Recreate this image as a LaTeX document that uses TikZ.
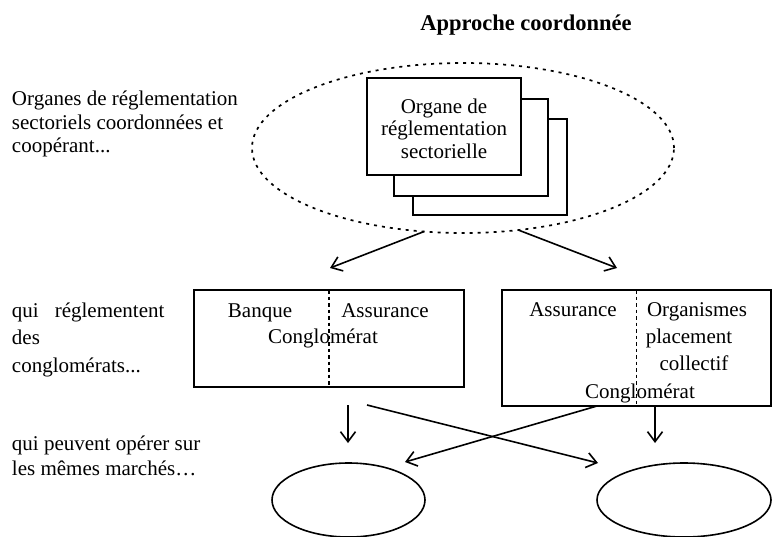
\documentclass[tikz,border=0pt]{standalone}
\usepackage{fontspec}
\setmainfont{Liberation Serif}
\usetikzlibrary{shapes.geometric,arrows.meta}
\begin{document}
\begin{tikzpicture}[x=1pt,y=-1pt,
  every node/.style={inner sep=0pt,outer sep=0pt},
  txt/.style={font=\fontsize{21}{25}\selectfont, anchor=base},
  ltxt/.style={txt, anchor=base west},
  ttl/.style={font=\fontsize{22.5}{27}\selectfont\bfseries, anchor=base},
  box/.style={draw, line width=1.6pt, fill=white, rectangle},
  bubble/.style={draw, line width=1.6pt, ellipse},
  dotbubble/.style={draw, line width=1.7pt, ellipse, dash pattern=on 3pt off 5pt},
  divider/.style={line width=1.7pt, dash pattern=on 3.5pt off 3pt},
  arr/.style={line width=1.6pt, -{Straight Barb[length=10pt,width=15pt]}}
]
\useasboundingbox (0,0) rectangle (773,536);

% title
\node[ttl] (title) at (526,30) {Approche coordonnée};

% left captions
\node[ltxt] (c1) at (12,105) {Organes de réglementation};
\node[ltxt] (c2) at (12,129) {sectoriels coordonnées et};
\node[ltxt] (c3) at (12,152) {coopérant...};
\node[ltxt] (c4) at (12,317) {qui\hspace{16pt}réglementent};
\node[ltxt] (c5) at (12,344) {des};
\node[ltxt] (c6) at (12,372) {conglomérats...};
\node[ltxt] (c7) at (12,450) {qui peuvent opérer sur};
\node[ltxt] (c8) at (12,475) {les mêmes marchés…};

% dotted ellipse with stacked regulators
\node[dotbubble, minimum width=422, minimum height=170] (reg) at (463,148) {};
\node[box, minimum width=154, minimum height=96] (org3) at (490,167) {};
\node[box, minimum width=154, minimum height=97] (org2) at (471,147.5) {};
\node[box, minimum width=154, minimum height=97] (org1) at (444,126.5) {};
\node[txt] (o1) at (444,113) {Organe de};
\node[txt] (o2) at (444,135.5) {réglementation};
\node[txt] (o3) at (444,158) {sectorielle};

% conglomerate boxes
\node[box, minimum width=270, minimum height=97] (conga) at (329,338.5) {};
\draw[divider] (conga.north) -- (conga.south);
\node[txt] (ba) at (260,317) {Banque};
\node[txt] (aa) at (385,317) {Assurance};
\node[txt] (ca) at (323,343) {Conglomérat};

\node[box, minimum width=269, minimum height=116] (congb) at (636.5,348) {};
\draw[divider] (congb.north) -- (congb.south);
\node[txt] (ab) at (573,316) {Assurance};
\node[txt] (ob1) at (697,316) {Organismes};
\node[txt] (ob2) at (689,343) {placement};
\node[txt] (ob3) at (694,370) {collectif};
\node[txt] (cb) at (640,398) {Conglomérat};

% markets
\node[bubble, minimum width=153, minimum height=74] (mka) at (348.5,500) {};
\node[bubble, minimum width=174, minimum height=74] (mkb) at (684,500) {};

% arrow end points
\coordinate (e1) at (330,268);
\coordinate (e2) at (617,268);
\coordinate (s3) at (348,405);
\coordinate (e3) at (348,443);
\coordinate (s4) at (367,405);
\coordinate (e4) at (598,463);
\coordinate (s5) at (597,406);
\coordinate (e5) at (405,462);
\coordinate (s6) at (655,406);
\coordinate (e6) at (655,443);

\draw[arr] (reg.245.7) -- (e1);
\draw[arr] (reg.304) -- (e2);
\draw[arr] (s3) -- (e3);
\draw[arr] (s4) -- (e4);
\draw[arr] (s5) -- (e5);
\draw[arr] (s6) -- (e6);
\end{tikzpicture}
\end{document}
